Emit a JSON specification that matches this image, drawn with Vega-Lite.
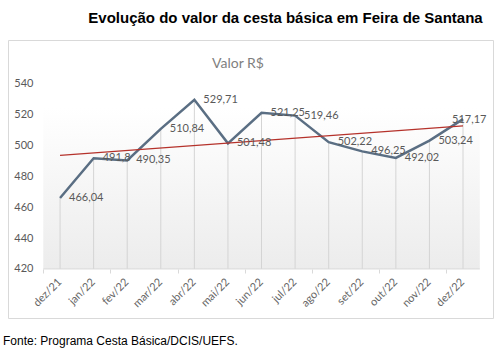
{
  "$schema": "https://vega.github.io/schema/vega-lite/v6.json",
  "width": 485,
  "height": 278,
  "autosize": {"type": "none"},
  "padding": {"left": 8, "top": 40, "right": 4, "bottom": 34},
  "background": "white",
  "config": {
    "view": {"stroke": "#d9d9d9", "strokeWidth": 1, "fill": "white"},
    "locale": {"number": {"decimal": ",", "thousands": ".", "grouping": [3], "currency": ["R$ ", ""]}}
  },
  "title": {
    "text": "Evolução do valor da cesta básica em Feira de Santana",
    "font": "Liberation Sans",
    "fontSize": 15,
    "fontWeight": "bold",
    "color": "#000000",
    "anchor": "middle",
    "dx": 35,
    "offset": 14
  },
  "data": {
    "values": [
      {"i": 0, "mes": "dez/21", "valor": 466.04},
      {"i": 1, "mes": "jan/22", "valor": 491.8},
      {"i": 2, "mes": "fev/22", "valor": 490.35},
      {"i": 3, "mes": "mar/22", "valor": 510.84},
      {"i": 4, "mes": "abr/22", "valor": 529.71},
      {"i": 5, "mes": "mai/22", "valor": 501.48},
      {"i": 6, "mes": "jun/22", "valor": 521.25},
      {"i": 7, "mes": "jul/22", "valor": 519.46},
      {"i": 8, "mes": "ago/22", "valor": 502.22},
      {"i": 9, "mes": "set/22", "valor": 496.25},
      {"i": 10, "mes": "out/22", "valor": 492.02},
      {"i": 11, "mes": "nov/22", "valor": 503.24},
      {"i": 12, "mes": "dez/22", "valor": 517.17}
    ]
  },
  "layer": [
    {
      "data": {"values": [{}]},
      "mark": {
        "type": "rect",
        "fill": {
          "gradient": "linear",
          "x1": 0, "y1": 0, "x2": 0, "y2": 1,
          "stops": [{"offset": 0, "color": "#ffffff"}, {"offset": 1, "color": "#ececec"}]
        }
      },
      "encoding": {
        "x": {"datum": -0.5, "type": "quantitative"},
        "x2": {"datum": 12.5},
        "y": {"datum": 420, "type": "quantitative"},
        "y2": {"datum": 524.4}
      }
    },
    {
      "mark": {"type": "rule", "color": "#d4d4d4", "strokeWidth": 1},
      "encoding": {
        "x": {"field": "i", "type": "quantitative"},
        "y": {"field": "valor", "type": "quantitative"},
        "y2": {"datum": 420}
      }
    },
    {
      "data": {"values": [{}]},
      "mark": {"type": "rule", "color": "#d9d9d9", "strokeWidth": 1},
      "encoding": {
        "x": {"datum": -0.5, "type": "quantitative"},
        "x2": {"datum": 12.5},
        "y": {"datum": 420, "type": "quantitative"}
      }
    },
    {
      "mark": {"type": "line", "color": "#5a6e83", "strokeWidth": 2.5, "strokeJoin": "miter"},
      "encoding": {
        "x": {
          "field": "i",
          "type": "quantitative",
          "scale": {"domain": [-1.55, 12.893], "nice": false, "zero": false},
          "axis": {
            "values": [-0.5, 0.5, 1.5, 2.5, 3.5, 4.5, 5.5, 6.5, 7.5, 8.5, 9.5, 10.5, 11.5, 12.5],
            "labels": false,
            "domain": false,
            "grid": false,
            "ticks": true,
            "tickSize": 4,
            "tickColor": "#d9d9d9",
            "offset": -49,
            "title": null
          }
        },
        "y": {
          "field": "valor",
          "type": "quantitative",
          "scale": {"domain": [388.2, 568.5], "nice": false, "zero": false},
          "axis": {
            "values": [420, 440, 460, 480, 500, 520, 540],
            "domain": false,
            "ticks": false,
            "grid": false,
            "offset": -25,
            "labelPadding": 0,
            "labelFont": "Lato",
            "labelFontSize": 11,
            "labelColor": "#595959",
            "title": null
          }
        }
      }
    },
    {
      "transform": [{"regression": "valor", "on": "i", "extent": [0, 12]}],
      "mark": {"type": "line", "color": "#b5322b", "strokeWidth": 1.2},
      "encoding": {
        "x": {"field": "i", "type": "quantitative"},
        "y": {"field": "valor", "type": "quantitative"}
      }
    },
    {
      "transform": [{"filter": "datum.i < 12"}],
      "mark": {"type": "text", "align": "left", "baseline": "middle", "dx": 9, "font": "Lato", "fontSize": 11, "color": "#595959"},
      "encoding": {
        "x": {"field": "i", "type": "quantitative"},
        "y": {"field": "valor", "type": "quantitative"},
        "text": {"field": "valor", "type": "quantitative", "format": ".2~f"}
      }
    },
    {
      "transform": [{"filter": "datum.i == 12"}],
      "mark": {"type": "text", "align": "left", "baseline": "middle", "dx": -11, "dy": 1, "font": "Lato", "fontSize": 11, "color": "#595959"},
      "encoding": {
        "x": {"field": "i", "type": "quantitative"},
        "y": {"field": "valor", "type": "quantitative"},
        "text": {"field": "valor", "type": "quantitative", "format": ".2~f"}
      }
    },
    {
      "mark": {"type": "text", "align": "right", "baseline": "middle", "angle": 315, "font": "Lato", "fontSize": 11, "color": "#666666"},
      "encoding": {
        "x": {"field": "i", "type": "quantitative"},
        "y": {"datum": 412.5, "type": "quantitative"},
        "text": {"field": "mes", "type": "nominal"}
      }
    },
    {
      "data": {"values": [{"t": "Valor R$"}]},
      "mark": {"type": "text", "align": "center", "baseline": "middle", "font": "Lato", "fontSize": 14, "color": "#7f7f7f"},
      "encoding": {
        "x": {"datum": 5.3, "type": "quantitative"},
        "y": {"datum": 553, "type": "quantitative"},
        "text": {"field": "t", "type": "nominal"}
      }
    },
    {
      "data": {"values": [{"t": "Fonte: Programa Cesta Básica/DCIS/UEFS."}]},
      "mark": {"type": "text", "align": "left", "baseline": "middle", "font": "Liberation Sans", "fontSize": 12, "color": "#000000"},
      "encoding": {
        "x": {"datum": -1.7, "type": "quantitative"},
        "y": {"datum": 373, "type": "quantitative"},
        "text": {"field": "t", "type": "nominal"}
      }
    }
  ]
}
